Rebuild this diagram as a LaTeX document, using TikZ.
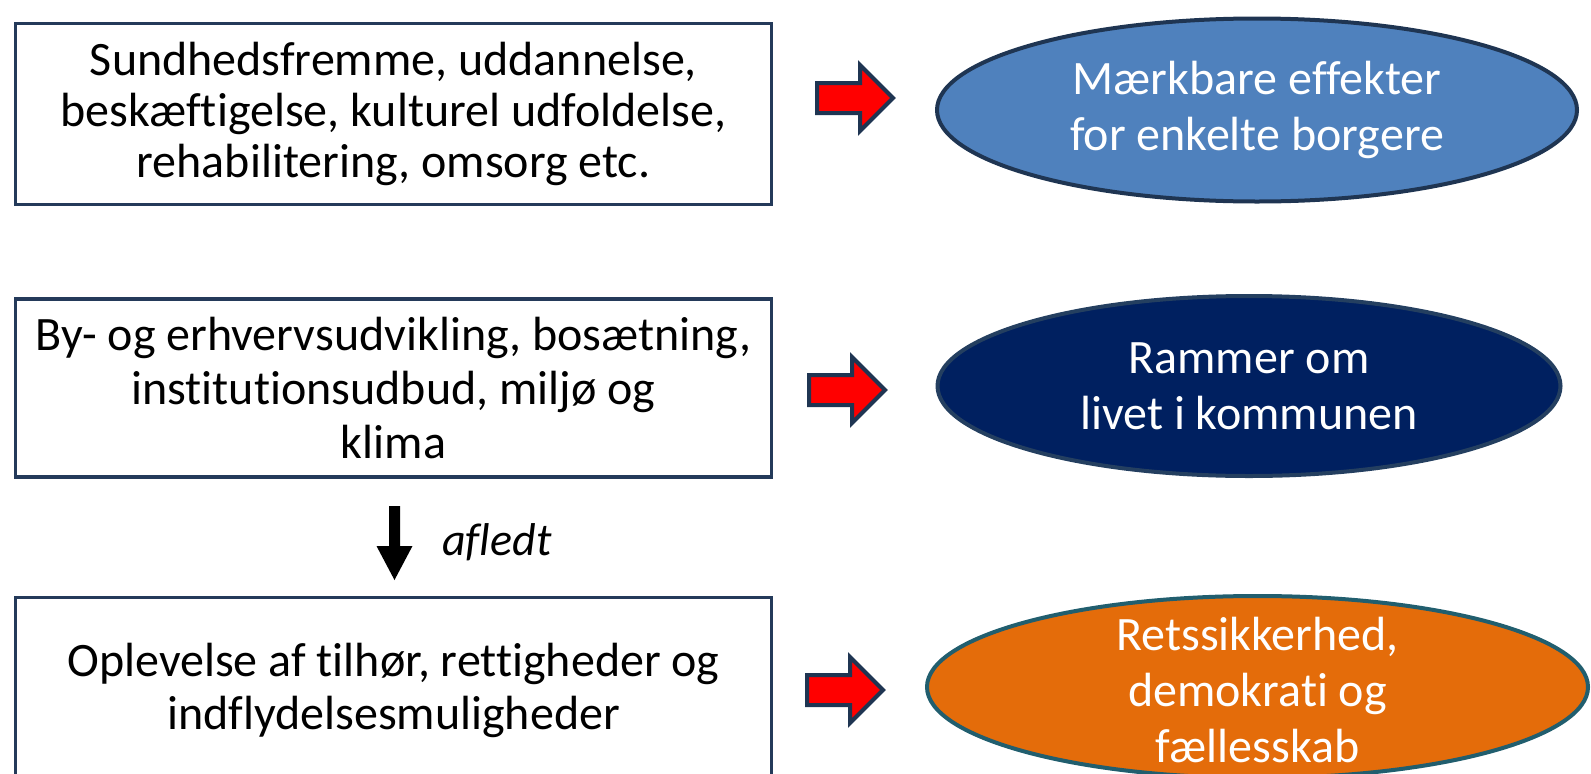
\documentclass[tikz,border=0pt]{standalone}
\usepackage{fontspec}
\setmainfont{Carlito}[Ligatures=NoCommon]
\usetikzlibrary{shapes.geometric}
\definecolor{boxline}{HTML}{243A5A}
\definecolor{arrline}{HTML}{1F3552}
\definecolor{ellA}{HTML}{4F81BD}
\definecolor{ellAline}{HTML}{1F3552}
\definecolor{ellB}{HTML}{002060}
\definecolor{ellBline}{HTML}{243F60}
\definecolor{ellC}{HTML}{E46C0A}
\definecolor{ellCline}{HTML}{215E6E}
\tikzset{
  textbox/.style={draw=boxline, line width=3.8pt, fill=white, rectangle, inner sep=0pt,
    font=\fontsize{48}{51}\selectfont, align=center},
  ellbox/.style={ellipse, line width=4pt, inner sep=0pt},
  elltext/.style={text=white, font=\fontsize{48}{56}\selectfont, align=center, inner sep=0pt},
  redarrow/.style={fill=red, draw=arrline, line width=4pt, line join=miter},
}
\begin{document}
\begin{tikzpicture}[x=1pt,y=-1pt]
\useasboundingbox (0,0) rectangle (1591,774);
\begin{scope}
\clip (0,0) rectangle (1591,774);
% left boxes
\node[textbox, minimum width=756pt, minimum height=181pt] (b1) at (393.5,114)
  {Sundhedsfremme, uddannelse,\\beskæftigelse, kulturel udfoldelse,\\rehabilitering, omsorg etc.};
\node[textbox, font=\fontsize{48}{54}\selectfont, minimum width=756pt, minimum height=178pt] (b2) at (393.5,388)
  {By- og erhvervsudvikling, bosætning,\\institutionsudbud, miljø og\\klima};
\node[textbox, font=\fontsize{48}{53}\selectfont, minimum width=756pt, minimum height=185pt] (b3) at (393.5,690)
  {Oplevelse af tilhør, rettigheder og\\indflydelsesmuligheder};
% ellipses
\node[ellbox, fill=ellA, draw=ellAline, minimum width=640pt, minimum height=183pt] (e1) at (1257,110) {};
\node[elltext] (t1) at (e1.center) {Mærkbare effekter\\for enkelte borgere};
\node[ellbox, fill=ellB, draw=ellBline, minimum width=623pt, minimum height=180pt] (e2) at (1249,386) {};
\node[elltext] (t2) at (e2.center) {Rammer om\\livet i kommunen};
\node[ellbox, fill=ellC, draw=ellCline, minimum width=661pt, minimum height=182pt] (e3) at (1257.5,687) {};
\node[elltext] (t3) at ([yshift=-3pt]e3.center) {Retssikkerhed,\\demokrati og\\fællesskab};
\end{scope}
% red block arrows
\coordinate (a1) at (817,98);
\coordinate (a2) at (809,390);
\coordinate (a3) at (807,690);
\foreach \c in {a1,a2,a3}{
  \draw[redarrow] (\c) ++(0,-15) -- ++(43,0) -- ++(0,-18) -- ++(33,33) -- ++(-33,33) -- ++(0,-18) -- ++(-43,0) -- cycle;
}
% down arrow
\coordinate (d) at (394.5,506);
\fill[black] (d) ++(-5.5,0) -- ++(11,0) -- ++(0,40) -- ++(12.5,0) -- ++(-18,34) -- ++(-18,-34) -- ++(12.5,0) -- cycle;
\node[font=\fontsize{46}{48}\selectfont\itshape, anchor=west, inner sep=0pt] (af) at (442,542) {afledt};
\end{tikzpicture}
\end{document}
